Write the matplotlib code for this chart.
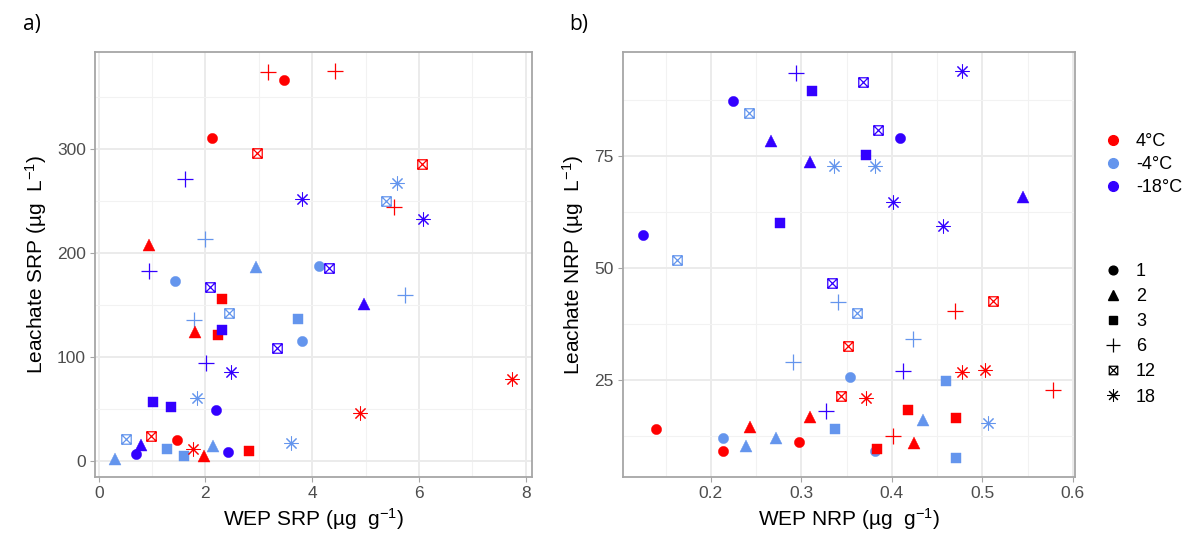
import matplotlib
matplotlib.use("Agg")
import matplotlib.pyplot as plt
from matplotlib.path import Path
from matplotlib.lines import Line2D
import numpy as np

plt.rcParams['font.family'] = ['Liberation Sans', 'DejaVu Sans']
plt.rcParams['mathtext.fontset'] = 'custom'
plt.rcParams['mathtext.rm'] = 'Liberation Sans'
plt.rcParams['mathtext.it'] = 'Liberation Sans:italic'

temps = ['4°C', '-4°C', '-18°C']
temp_colors = {'4°C': '#FF0000', '-4°C': '#6495ED', '-18°C': '#3300FF'}
times = ['1', '2', '3', '6', '12', '18']

# ---- Panel a: WEP SRP (x) vs Leachate SRP (y) ----
a_temp = (['4°C'] * 18) + (['-4°C'] * 18) + (['-18°C'] * 17)
a_time = ['1', '1', '1', '2', '2', '2', '3', '3', '3', '6', '6', '6', '12', '12', '12', '18', '18', '18',
          '1', '1', '1', '2', '2', '2', '3', '3', '3', '6', '6', '6', '12', '12', '12', '18', '18', '18',
          '1', '1', '1', '2', '2', '3', '3', '3', '6', '6', '6', '12', '12', '12', '18', '18', '18']
a_x = [3.48, 2.12, 1.46, 0.94, 1.81, 1.98, 2.32, 2.24, 2.82, 3.18, 4.43, 5.53, 2.97, 6.06, 0.98, 7.75, 4.90, 1.76,
       1.43, 3.81, 4.12, 2.95, 0.31, 2.15, 3.73, 1.28, 1.60, 2.00, 1.78, 5.74, 5.38, 2.45, 0.51, 5.59, 1.85, 3.61,
       2.20, 0.69, 2.42, 0.79, 4.98, 1.02, 1.36, 2.32, 1.61, 0.95, 2.02, 2.08, 3.35, 4.32, 3.81, 6.07, 2.48]
a_y = [367, 311, 20.5, 208, 124, 5, 155.5, 121, 9.3, 374, 375, 244.5, 296.5, 285.6, 24, 78.5, 46.5, 11.5,
       173, 115.7, 187.5, 187, 2, 14, 136.5, 11.5, 4.8, 214, 135.6, 160, 249.7, 142.6, 21, 267.6, 60.6, 17.6,
       48.7, 7, 9, 15, 150.5, 56.4, 51.6, 126, 271, 183, 94.5, 167, 109, 186, 251.6, 232.7, 86]

# ---- Panel b: WEP NRP (x) vs Leachate NRP (y) ----
b_temp = (['4°C'] * 18) + (['-4°C'] * 18) + (['-18°C'] * 18)
b_time = ['1', '1', '1', '2', '2', '2', '3', '3', '3', '6', '6', '6', '12', '12', '12', '18', '18', '18'] * 3
b_x = [0.139, 0.214, 0.297, 0.243, 0.310, 0.425, 0.418, 0.471, 0.384, 0.470, 0.578, 0.401, 0.512, 0.352, 0.344, 0.372, 0.478, 0.503,
       0.214, 0.354, 0.382, 0.239, 0.272, 0.435, 0.337, 0.460, 0.471, 0.341, 0.291, 0.423, 0.242, 0.163, 0.362, 0.336, 0.381, 0.506,
       0.225, 0.409, 0.125, 0.266, 0.310, 0.545, 0.312, 0.371, 0.277, 0.294, 0.327, 0.412, 0.368, 0.385, 0.334, 0.478, 0.401, 0.457]
b_y = [14, 9, 11.2, 14.5, 16.8, 11, 18.3, 16.4, 9.6, 40.4, 22.7, 12.5, 42.6, 32.6, 21.5, 21, 26.8, 27.2,
       12, 25.6, 9, 10.3, 12.1, 16.1, 14, 24.7, 7.6, 42.4, 29.1, 34.1, 84.6, 51.8, 39.9, 72.9, 72.8, 15.4,
       87.3, 79, 57.3, 78.4, 73.8, 65.8, 89.6, 75.3, 60, 93.5, 18, 26.9, 91.7, 80.8, 46.7, 94, 64.7, 59.3]

# marker definitions (ggplot shapes 16, 17, 15, 3, 7, 8)
boxx = Path([(-1, -1), (1, -1), (1, 1), (-1, 1), (-1, -1), (-1, -1), (1, 1), (-1, 1), (1, -1)],
            [Path.MOVETO, Path.LINETO, Path.LINETO, Path.LINETO, Path.CLOSEPOLY,
             Path.MOVETO, Path.LINETO, Path.MOVETO, Path.LINETO])
marker_style = {
    '1': dict(marker='o', ms=7.4, filled=True),
    '2': dict(marker='^', ms=9.0, filled=True),
    '3': dict(marker='s', ms=6.6, filled=True),
    '6': dict(marker='+', ms=11.0, filled=False, mew=0.9),
    '12': dict(marker=boxx, ms=6.8, filled=False, mew=0.9),
    '18': dict(marker=(8, 2, 0), ms=10.0, filled=False, mew=0.75),
}

def draw_points(ax, tl, ml, xs, ys):
    xs = np.asarray(xs); ys = np.asarray(ys)
    tl = np.asarray(tl); ml = np.asarray(ml)
    for t in ['-4°C', '4°C', '-18°C']:
        for m in times:
            sel = (tl == t) & (ml == m)
            if not sel.any():
                continue
            st = marker_style[m]
            c = temp_colors[t]
            kw = dict(linestyle='none', marker=st['marker'], markersize=st['ms'])
            if st['filled']:
                kw.update(markerfacecolor=c, markeredgecolor=c, markeredgewidth=0.3)
            else:
                kw.update(markerfacecolor='none', markeredgecolor=c, markeredgewidth=st['mew'])
            ax.plot(xs[sel], ys[sel], zorder=3, **kw)

def style_axes(ax):
    ax.set_facecolor('white')
    ax.grid(True, which='major', color='#EBEBEB', linewidth=1.4, zorder=0)
    ax.grid(True, which='minor', color='#F2F2F2', linewidth=0.8, zorder=0)
    ax.set_axisbelow(True)
    for sp in ax.spines.values():
        sp.set_color('#A6A6A6')
        sp.set_linewidth(1.3)
    ax.tick_params(which='major', length=3.5, width=0.8, color='#A6A6A6',
                   labelsize=12.5, labelcolor='#4D4D4D', pad=3)
    ax.tick_params(which='minor', length=0)

fig = plt.figure(figsize=(11.99, 5.44), dpi=100)
axa = fig.add_axes([0.0792, 0.1232, 0.3645, 0.7812])
axb = fig.add_axes([0.5196, 0.1232, 0.3770, 0.7812])

draw_points(axa, a_temp, a_time, a_x, a_y)
draw_points(axb, b_temp, b_time, b_x, b_y)

for ax in (axa, axb):
    style_axes(ax)

axa.set_xlim(-0.07, 8.12)
axa.set_ylim(-15.5, 393.5)
axa.set_xticks([0, 2, 4, 6, 8])
axa.set_xticks([1, 3, 5, 7], minor=True)
axa.set_yticks([0, 100, 200, 300])
axa.set_yticks([50, 150, 250, 350], minor=True)

axb.set_xlim(0.103, 0.6025)
axb.set_ylim(3.3, 98.3)
axb.set_xticks([0.2, 0.3, 0.4, 0.5, 0.6])
axb.set_xticklabels(['0.2', '0.3', '0.4', '0.5', '0.6'])
axb.set_xticks([0.15, 0.25, 0.35, 0.45, 0.55], minor=True)
axb.set_yticks([25, 50, 75])
axb.set_yticks([12.5, 37.5, 62.5, 87.5], minor=True)

axa.set_xlabel('WEP SRP (µg  g$^{-1}$)', fontsize=15, labelpad=4)
axa.set_ylabel('Leachate SRP (µg  L$^{-1}$)', fontsize=15, labelpad=6)
axb.set_xlabel('WEP NRP (µg  g$^{-1}$)', fontsize=15, labelpad=4)
axb.set_ylabel('Leachate NRP (µg  L$^{-1}$)', fontsize=15, labelpad=6)

fig.text(0.019, 0.955, 'a)', fontsize=15, family=['Open Sans', 'DejaVu Sans'], va='center', ha='left')
fig.text(0.475, 0.955, 'b)', fontsize=15, family=['Open Sans', 'DejaVu Sans'], va='center', ha='left')

# legends
col_handles = [Line2D([], [], linestyle='none', marker='o', markersize=7, color=temp_colors[t]) for t in temps]
leg1 = fig.legend(col_handles, temps, loc='upper left', bbox_to_anchor=(0.915, 0.768),
                  frameon=False, fontsize=13, handlelength=1.0, handletextpad=0.75,
                  labelspacing=0.32, borderaxespad=0)
shape_handles = []
for m in times:
    st = marker_style[m]
    if st['filled']:
        h = Line2D([], [], linestyle='none', marker=st['marker'], markersize=st['ms'] * 0.85,
                   color='black')
    else:
        h = Line2D([], [], linestyle='none', marker=st['marker'], markersize=st['ms'] * 0.9,
                   markerfacecolor='none', markeredgecolor='black', markeredgewidth=st['mew'])
    shape_handles.append(h)
leg2 = fig.legend(shape_handles, times, loc='upper left', bbox_to_anchor=(0.915, 0.53),
                  frameon=False, fontsize=13, handlelength=1.0, handletextpad=0.75,
                  labelspacing=0.45, borderaxespad=0)

fig.savefig('out.png', dpi=100, facecolor='white')
